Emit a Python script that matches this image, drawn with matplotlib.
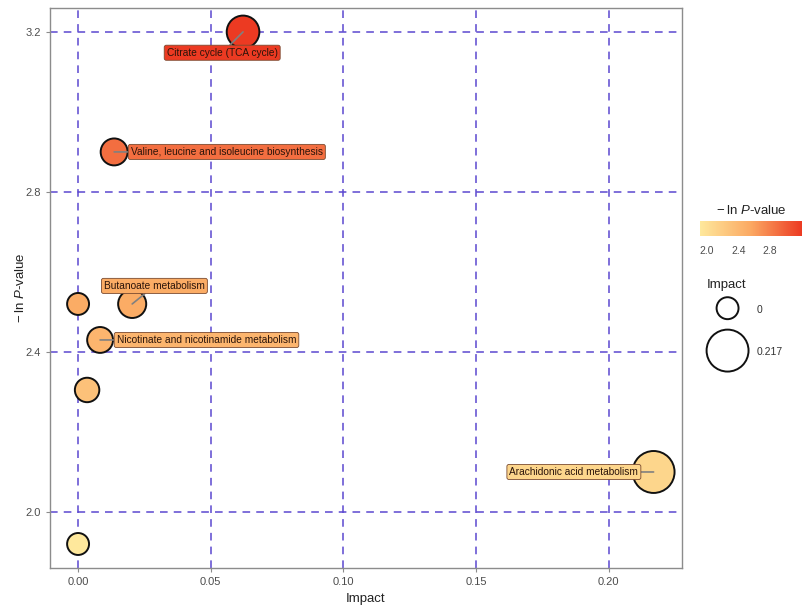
import numpy as np
import matplotlib.pyplot as plt
from matplotlib.colors import LinearSegmentedColormap, Normalize
from matplotlib.cm import ScalarMappable

plt.rcParams['font.family'] = ['Liberation Sans', 'DejaVu Sans']
plt.rcParams['mathtext.fontset'] = 'custom'
plt.rcParams['mathtext.rm'] = 'Liberation Sans'
plt.rcParams['mathtext.it'] = 'Liberation Sans:italic'

#* Datos de las rutas
rutas = ['Citrate cycle (TCA cycle)',
         'Valine, leucine and isoleucine biosynthesis',
         'Butanoate metabolism',
         '',
         'Nicotinate and nicotinamide metabolism',
         '',
         'Arachidonic acid metabolism',
         '']
impacto = [0.0622, 0.0136, 0.0204, 0.0, 0.0083, 0.0034, 0.217, 0.0]
lnp = [3.20, 2.90, 2.52, 2.52, 2.43, 2.305, 2.10, 1.92]

# desplazamiento de etiquetas (puntos) y alineacion
desplaz = [(-15, -15), (12, 0), (16, 13), None, (12, 0), None, (-11, 0), None]
alineac = ['center', 'left', 'center', None, 'left', None, 'right', None]

impacto = np.array(impacto)
lnp = np.array(lnp)

titulo_p = '\u2212\u2009ln $\\mathit{P}$-value'

#* Escala de tamano tipo ggplot (diametro lineal en sqrt)
d_min, d_max = 15.8, 30.2
def diametro(v):
     return d_min + (d_max - d_min) * np.sqrt(v / impacto.max())

cmap = LinearSegmentedColormap.from_list('pv', ['#FEE89C', '#FBA862', '#EC3A22'])
norm = Normalize(vmin=lnp.min(), vmax=lnp.max())

fig = plt.figure(figsize=(8.02, 6.08), dpi=100)
ax = fig.add_axes([0.0623, 0.0658, 0.7877, 0.9212])

ax.set_xlim(-0.0106, 0.2276)
ax.set_ylim(1.86, 3.26)
ax.set_xticks([0.0, 0.05, 0.10, 0.15, 0.20])
ax.set_xticklabels(['0.00', '0.05', '0.10', '0.15', '0.20'])
ax.set_yticks([2.0, 2.4, 2.8, 3.2])
ax.grid(True, color='#5b48d0', ls=(0, (5, 4)), lw=1.1)
ax.set_axisbelow(True)

for s in ax.spines.values():
     s.set_color('#8c8c8c')
     s.set_linewidth(1.0)
ax.tick_params(colors='#8c8c8c', labelcolor='#4d4d4d', labelsize=8, length=3)

ax.scatter(impacto, lnp, s=diametro(impacto) ** 2, c=lnp, cmap=cmap, norm=norm,
           edgecolors='#111111', linewidths=1.4, zorder=3)

#* Etiquetas
for i in range(len(rutas)):
     if rutas[i] == '':
          continue
     col = cmap(norm(lnp[i]))
     ax.annotate(rutas[i], xy=(impacto[i], lnp[i]), xytext=desplaz[i],
                 textcoords='offset points', ha=alineac[i], va='center',
                 fontsize=7.3, color='#2b140a', zorder=5,
                 bbox=dict(boxstyle='round,pad=0.25,rounding_size=0.2',
                           fc=col, ec='#7a4a30', lw=0.6),
                 arrowprops=dict(arrowstyle='-', color='#808080', lw=1.2,
                                 shrinkA=0, shrinkB=0))

ax.set_xlabel('Impact', fontsize=9.5, color='#222222', labelpad=4)
ax.set_ylabel(titulo_p, fontsize=9.5, color='#222222')
ax.yaxis.set_label_coords(-0.037, 0.5)

#* Barra de color
cax = fig.add_axes([0.873, 1 - 236 / 608, 0.127, 15 / 608])
cb = fig.colorbar(ScalarMappable(norm=norm, cmap=cmap), cax=cax, orientation='horizontal')
cb.set_ticks([2.0, 2.4, 2.8])
cb.set_ticklabels(['2.0', '2.4', '2.8'])
cb.outline.set_visible(False)
cax.tick_params(labelsize=7.5, labelcolor='#4d4d4d', length=0, pad=7)
cax.set_title(titulo_p, fontsize=9.5, color='#222222', pad=5)

#* Leyenda de tamano
manijas = []
for v in [0.0, impacto.max()]:
     manijas.append(ax.scatter([], [], s=diametro(v) ** 2, facecolors='none',
                               edgecolors='#111111', linewidths=1.4))
fig.text(727 / 802, 1 - 285 / 608, 'Impact', fontsize=9.5, color='#222222',
         ha='center', va='center')
leg = fig.legend(manijas, ['0', '0.217'], loc='upper left',
                 bbox_to_anchor=(0.889, 1 - 299 / 608), frameon=False, fontsize=7.5,
                 labelspacing=2.85, handleheight=1.5, handletextpad=1.8,
                 borderaxespad=0)
for t in leg.get_texts():
     t.set_color('#333333')

plt.savefig('out.png', dpi=100)
